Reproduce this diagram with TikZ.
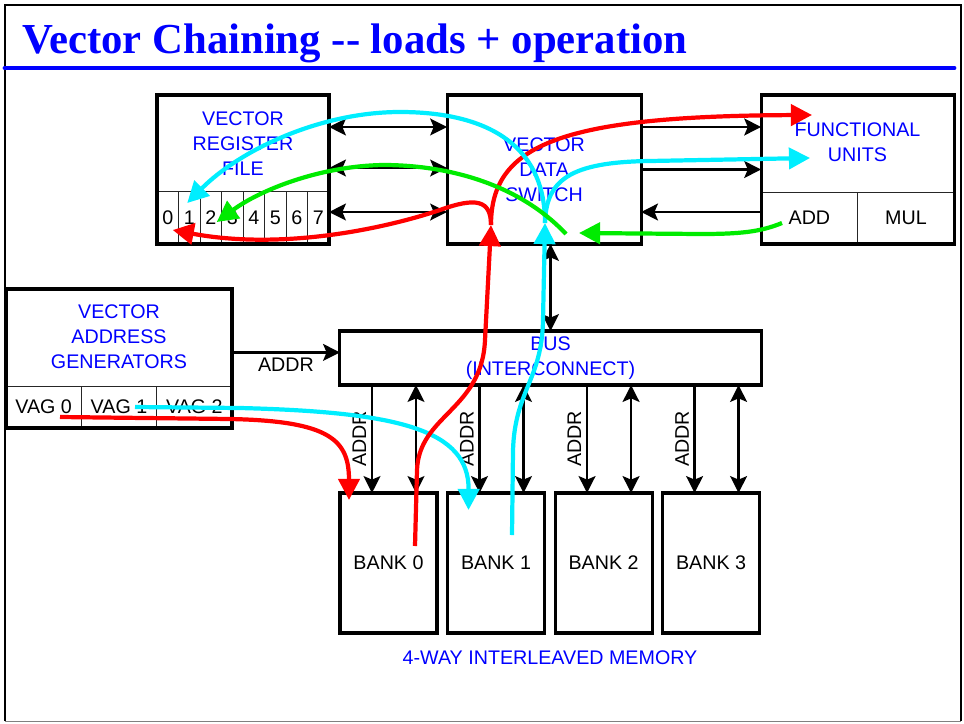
\documentclass[tikz,border=0pt]{standalone}
\usepackage{fontspec}
\setmainfont{Liberation Sans}
\newfontfamily\titlefont{Liberation Serif}
\usetikzlibrary{arrows.meta, positioning, calc}
\definecolor{ttlblue}{RGB}{0,0,255}
\definecolor{pathred}{RGB}{255,0,0}
\definecolor{pathcyan}{RGB}{0,238,255}
\definecolor{pathgreen}{RGB}{0,235,0}
\newcommand{\diagfont}{\fontsize{14}{17.8}\selectfont}

\begin{document}
\begin{tikzpicture}[
    x=0.025cm, y=-0.025cm,
    >={Stealth[length=12pt, width=12pt, inset=2.5pt]},
    box/.style={draw, line width=2.2pt, outer sep=0pt, inner sep=0pt},
    cell/.style={draw=black!85, line width=0.7pt, outer sep=0pt, inner sep=0pt, font=\diagfont},
    lbl/.style={text=ttlblue, align=center, font=\diagfont},
    bank/.style={box, minimum width=2.425cm, minimum height=3.5cm, font=\diagfont},
    arr/.style={->, line width=1.6pt},
    dbl/.style={<->, line width=1.6pt},
    chain/.style={line width=3pt, -{Triangle[length=15pt, width=15pt]}}
]
\useasboundingbox (0,0) rectangle (964,723);

% frame and title
\draw[line width=2pt] (5,721) -- (5,5) -- (961,5) -- (961,721);
\draw[gray, line width=0.6pt] (5,721) -- (961,721);
\node[anchor=base west, inner sep=0pt, text=ttlblue, font=\titlefont\bfseries\fontsize{30.4}{36}\selectfont] (title) at (22,53.5) {Vector Chaining -{}- loads + operation};
\draw[ttlblue, line width=3.5pt, line cap=round] (5,68) -- (954,68);

% register file, data switch, functional units
\node[box, minimum width=4.3cm, minimum height=3.725cm] (vrf) at (243,169.5) {};
\node[box, minimum width=4.85cm, minimum height=3.725cm, right=2.95cm of vrf] (vds) {};
\node[box, minimum width=4.825cm, minimum height=3.725cm, right=3cm of vds] (fu) {};

\node[lbl] (vrflbl) at (243,143.5) {VECTOR\\REGISTER\\FILE};
\node[lbl] (vdslbl) at (vds) {VECTOR\\DATA\\SWITCH};
\node[lbl] (fulbl) at (857.5,142.5) {FUNCTIONAL\\UNITS};

\node[cell, minimum width=0.5375cm, minimum height=1.325cm, anchor=south west] (c0) at (vrf.south west) {0};
\foreach \i [count=\j from 0] in {1,...,7}
    \node[cell, minimum width=0.5375cm, minimum height=1.325cm, anchor=west] (c\i) at (c\j.east) {\i};
\node[cell, minimum width=2.4125cm, minimum height=1.3cm, anchor=south west] (add) at (fu.south west) {ADD};
\node[cell, minimum width=2.4125cm, minimum height=1.3cm, anchor=west] (mul) at (add.east) {MUL};
\node[box, minimum width=4.3cm, minimum height=3.725cm] at (vrf) {};
\node[box, minimum width=4.825cm, minimum height=3.725cm] at (fu) {};

% address generators and bus
\node[box, minimum width=5.65cm, minimum height=3.475cm] (vag) at (119,358.5) {};
\node[lbl] (vaglbl) at (119,337) {VECTOR\\ADDRESS\\GENERATORS};
\node[cell, minimum width=1.8833cm, minimum height=1.05cm, anchor=south west] (vag0) at (vag.south west) {VAG 0};
\node[cell, minimum width=1.8833cm, minimum height=1.05cm, anchor=west] (vag1) at (vag0.east) {VAG 1};
\node[cell, minimum width=1.8833cm, minimum height=1.05cm, anchor=west] (vag2) at (vag1.east) {VAG 2};
\node[box, minimum width=5.65cm, minimum height=3.475cm] at (vag) {};

\node[box, minimum width=10.525cm, minimum height=1.35cm] (bus) at (550.5,358) {};
\node[lbl] (buslbl) at (bus) {BUS\\(INTERCONNECT)};

% memory banks
\node[bank] (bank0) at (388.5,563) {BANK 0};
\foreach \i [count=\j from 0] in {1,2,3}
    \node[bank, right=0.2625cm of bank\j] (bank\i) {BANK \i};
\node[lbl] (memlbl) at (550,658) {4-WAY INTERLEAVED MEMORY};

% black connections
\foreach \dy in {1.0625,0.0375,-1.0625}
    \draw[dbl] ([yshift=\dy cm]vrf.east) -- ([yshift=\dy cm]vds.west);
\draw[arr] ([yshift=1.0625cm]vds.east) -- ([yshift=1.0625cm]fu.west);
\draw[arr] (vds.east) -- (fu.west);
\draw[arr] ([yshift=-1.0625cm]fu.west) -- ([yshift=-1.0625cm]vds.east);
\draw[dbl] (bus.north) -- (bus.north |- vds.south);

\coordinate (addr) at ([yshift=0.14cm]bus.west);
\draw[arr] (vag.east |- addr) -- (addr) node[midway, below, font=\diagfont] {ADDR};

\foreach \i in {0,...,3}{
    \coordinate (a\i) at ($(bank\i.north west)+(32,0)$);
    \coordinate (b\i) at ($(bank\i.north west)+(76,0)$);
    \draw[arr] (a\i |- bus.south) -- (a\i) node[midway, rotate=90, anchor=south, font=\diagfont] {ADDR};
    \draw[dbl] (b\i |- bus.south) -- (b\i);
}

% chaining flows
\coordinate (redhub) at (491,225);
\coordinate (cyanhub) at (545,223);
\coordinate (r0s) at (60,417);
\coordinate (c0s) at (135,407);
\coordinate (r1s) at (415,546);
\coordinate (c1s) at (512,535);
\coordinate (rtip) at (812,115);
\coordinate (ctip) at (810,158);
\coordinate (gs) at (782,223);
\coordinate (gtip) at (579,233);
\coordinate (g2s) at (566,234);

\draw[chain, pathred] (r0s) -- (230,419) .. controls (330,421) and (349,440) .. ($(bank0.north west)+(9,7)$);
\draw[chain, pathcyan] (c0s) -- (240,408) .. controls (400,412) and (469,430) .. ($(bank1.north west)+(21,17)$);
\draw[chain, pathred] (r1s) -- (417,470) .. controls (419,415) and (482,410) .. (485,340) -- (redhub);
\draw[chain, pathcyan] (c1s) -- (513,450) .. controls (515,390) and (542,380) .. (543,320) -- (cyanhub);
\draw[chain, pathred] (redhub) .. controls (491,200) and (476,197) .. (440,210) .. controls (380,230) and (280,250) .. ($(c0.south)+(5,-14)$);
\draw[chain, pathred] (redhub) .. controls (491,145) and (560,116) .. (rtip);
\draw[chain, pathcyan] (cyanhub) .. controls (545,140) and (480,112) .. (400,112) .. controls (320,112) and (240,150) .. ($(c1.north)+(-2,12)$);
\draw[chain, pathcyan] (cyanhub) .. controls (546,180) and (570,162) .. (650,161) -- (ctip);
\draw[chain, pathgreen] (gs) .. controls (760,232) and (740,234) .. (700,234) -- (gtip);
\draw[chain, pathgreen] (g2s) .. controls (520,185) and (450,165) .. (383,165) .. controls (320,166) and (260,190) .. ($(c2.south)+(6,-22)$);

\end{tikzpicture}
\end{document}
